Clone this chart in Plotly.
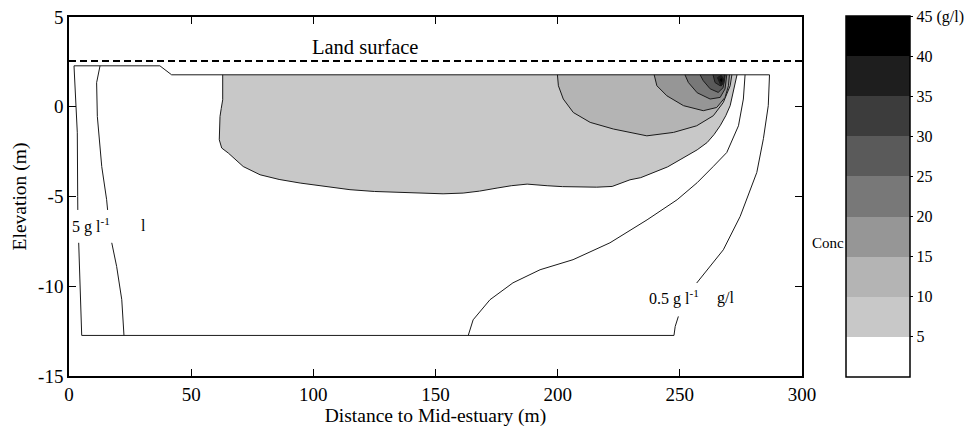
import plotly.graph_objects as go

# Salinity concentration cross-section beneath the marsh (g/l)
FONT = "Liberation Serif"

# Land surface elevation (m)
land_x = [0, 300]
land_y = [2.55, 2.55]

# Model domain outline
top_x = [2.05, 37.2, 42.0, 286.7]
top_y = [2.28, 2.28, 1.78, 1.78]
bottom_x = [5.2, 247.6]
bottom_y = [-12.74, -12.74]

# Left-hand contour lines (gaps where the label sits)
left1_x = [2.05, 2.87, 3.4, 3.56, 3.6, None, 3.97, 4.5, 4.79, 5.2]
left1_y = [2.28, 0.39, -1.45, -5.0, -5.75, None, -7.58, -9.82, -11.31, -12.74]
left2_x = [12.7, 11.3, 11.6, 13.4, 15.4, 15.8, None, 17.5, 19.5, 21.6, 22.5]
left2_y = [2.28, 1.34, -0.54, -3.33, -5.18, -5.75, None, -7.58, -8.90, -10.75, -12.74]

# Right-hand contour lines
mid_x = [276.7, 276.0, 274.0, 269.2, 263.6, 257.1, 248.9, 236.6, 221.4, 206.3,
         192.8, 181.7, 172.3, 165.4, 163.4]
mid_y = [1.78, 0.43, -1.06, -2.55, -3.34, -4.23, -5.18, -6.30, -7.58, -8.52,
         -9.08, -9.81, -10.75, -11.87, -12.74]
outer_x = [286.7, 286.2, 284.2, 281.5, 277.4, 274.7, 267.8, 258.3, 256.9, None,
           249.4, 248.1, 247.6]
outer_y = [1.78, 0.06, -1.78, -3.66, -5.14, -6.11, -7.97, -9.64, -9.82, None,
           -11.68, -12.24, -12.74]

# Filled concentration zones (lower bound of each band, g/l)
lvl5_x = [62.9, 62.9, 62.3, 61.8, 61.5, 62.5, 65.2, 68.0, 71.3, 78.2, 86.0, 94.6,
          105.0, 115.0, 125.0, 135.5, 145.0, 153.1, 161.3, 168.0, 175.2, 181.0,
          187.5, 192.0, 195.7, 202.0, 209.2, 216.0, 222.3, 226.0, 229.6, 234.0,
          239.0, 245.0, 250.1, 257.1, 261.2, 264.0, 266.5, 268.8, 270.6, 272.6, 273.4]
lvl5_y = [1.78, 0.39, -0.1, -0.54, -1.84, -2.3, -2.58, -2.95, -3.33, -3.79, -4.05,
          -4.25, -4.45, -4.62, -4.72, -4.77, -4.80, -4.85, -4.81, -4.70, -4.53,
          -4.40, -4.31, -4.38, -4.40, -4.45, -4.47, -4.48, -4.44, -4.25, -4.07,
          -3.95, -3.68, -3.35, -2.95, -2.40, -1.99, -1.55, -1.06, -0.5, 0.06, 1.17, 1.78]
lvl10_x = [199.9, 200.3, 202.3, 206.4, 213.3, 222.8, 236.5, 247.4, 256.9, 263.7,
           267.8, 270.6, 271.3]
lvl10_y = [1.78, 1.17, 0.43, -0.32, -0.87, -1.24, -1.62, -1.43, -1.06, -0.50,
           0.24, 1.17, 1.78]
lvl15_x = [239.5, 240.6, 244.7, 251.5, 259.6, 265.1, 268.5, 269.9, 270.3]
lvl15_y = [1.78, 1.17, 0.61, 0.06, -0.22, -0.04, 0.52, 1.17, 1.78]
lvl20_x = [252.1, 253.5, 257.1, 262.4, 266.5, 268.5, 269.2]
lvl20_y = [1.78, 1.35, 0.78, 0.43, 0.52, 0.99, 1.78]
lvl25_x = [258.3, 259.6, 262.4, 265.7, 267.7, 268.6]
lvl25_y = [1.78, 1.45, 1.00, 0.80, 1.06, 1.78]
lvl30_x = [263.6, 264.4, 266.5, 268.0, 268.3]
lvl30_y = [1.78, 1.35, 1.17, 1.30, 1.78]
lvl35_x = [265.4, 266.9, 268.1, 266.9, 265.4]
lvl35_y = [1.62, 1.76, 1.50, 1.15, 1.62]
lvl40_x = [266.2, 266.9, 267.7, 266.9, 266.2]
lvl40_y = [1.50, 1.66, 1.50, 1.30, 1.50]

band_edges = [0, 5, 10, 15, 20, 25, 30, 35, 40, 45]
band_colors = ["#ffffff", "#c8c8c8", "#b4b4b4", "#969696", "#787878",
               "#5a5a5a", "#3c3c3c", "#1e1e1e", "#000000"]
cbar_ticks = [5, 10, 15, 20, 25, 30, 35, 40, 45]
cbar_text = ["5", "10", "15", "20", "25", "30", "35", "40", "45 (g/l)"]

x_ticks = [0, 50, 100, 150, 200, 250, 300]
y_ticks = [-15, -10, -5, 0, 5]

LINE = "#1a1a1a"
fig = go.Figure()

zones = [(lvl5_x, lvl5_y, 1), (lvl10_x, lvl10_y, 2), (lvl15_x, lvl15_y, 3),
         (lvl20_x, lvl20_y, 4), (lvl25_x, lvl25_y, 5), (lvl30_x, lvl30_y, 6),
         (lvl35_x, lvl35_y, 7), (lvl40_x, lvl40_y, 8)]
for zx, zy, k in zones:
    fig.add_trace(go.Scatter(x=zx, y=zy, mode="lines", fill="toself",
                             fillcolor=band_colors[k],
                             line=dict(color=LINE, width=1), hoverinfo="skip"))

for lx, ly in [(top_x, top_y), (bottom_x, bottom_y), (left1_x, left1_y),
               (left2_x, left2_y), (mid_x, mid_y), (outer_x, outer_y)]:
    fig.add_trace(go.Scatter(x=lx, y=ly, mode="lines", connectgaps=False,
                             line=dict(color=LINE, width=1), hoverinfo="skip"))

fig.add_trace(go.Scatter(x=land_x, y=land_y, mode="lines",
                         line=dict(color="black", width=2, dash="7px,4px"),
                         hoverinfo="skip"))

# Discrete colour bar for concentration bands
cscale = []
n = len(band_colors)
for i, c in enumerate(band_colors):
    cscale.append([i / n, c])
    cscale.append([(i + 1) / n, c])
fig.add_trace(go.Scatter(
    x=[None], y=[None], mode="markers",
    marker=dict(color=[0], cmin=band_edges[0], cmax=band_edges[-1],
                colorscale=cscale, showscale=True,
                colorbar=dict(x=1.060, xanchor="left", xpad=0, ypad=0,
                              y=0.5, yanchor="middle", len=1.005,
                              thickness=64, outlinecolor="black", outlinewidth=1.5,
                              tickvals=cbar_ticks, ticktext=cbar_text,
                              ticks="outside", ticklen=3, tickcolor="black",
                              tickfont=dict(family=FONT, size=16, color="black"))),
    hoverinfo="skip"))

axis_common = dict(showgrid=False, zeroline=False, showline=True, linecolor="black",
                   linewidth=1.5, mirror="ticks", ticks="inside", ticklen=7,
                   tickcolor="black", tickfont=dict(family=FONT, size=19, color="black"))
fig.update_xaxes(range=[0, 300], tickvals=x_ticks,
                 ticktext=[str(v) for v in x_ticks], **axis_common,
                 title=dict(text="Distance to Mid-estuary (m)", standoff=0,
                            font=dict(family=FONT, size=19.5, color="black")))
fig.update_yaxes(range=[-15, 5], tickvals=y_ticks,
                 ticktext=[str(v) for v in y_ticks], **axis_common,
                 title=dict(text="Elevation (m)", standoff=6,
                            font=dict(family=FONT, size=19.5, color="black")))

ann_font = dict(family=FONT, size=16, color="black")
fig.add_annotation(x=121, y=3.34, text="Land surface", showarrow=False,
                   font=dict(family=FONT, size=20.5, color="black"))
fig.add_annotation(x=0.6, y=-6.6, text="5 g l<sup>-1</sup>", showarrow=False,
                   xanchor="left", font=ann_font)
fig.add_annotation(x=30.3, y=-6.6, text="l", showarrow=False, font=ann_font)
fig.add_annotation(x=236.5, y=-10.65, text="0.5 g l<sup>-1</sup>", showarrow=False,
                   xanchor="left", font=ann_font)
fig.add_annotation(x=268.5, y=-10.65, text="g/l", showarrow=False, font=ann_font)
fig.add_annotation(xref="paper", yref="paper", x=1.060, y=0.37, text="Conc",
                   showarrow=False, xanchor="right",
                   font=dict(family=FONT, size=15, color="black"))

fig.update_layout(width=967, height=428, showlegend=False,
                  margin=dict(l=69, r=165, t=17, b=52, autoexpand=False),
                  plot_bgcolor="white", paper_bgcolor="white")

fig.write_html("out.html")
